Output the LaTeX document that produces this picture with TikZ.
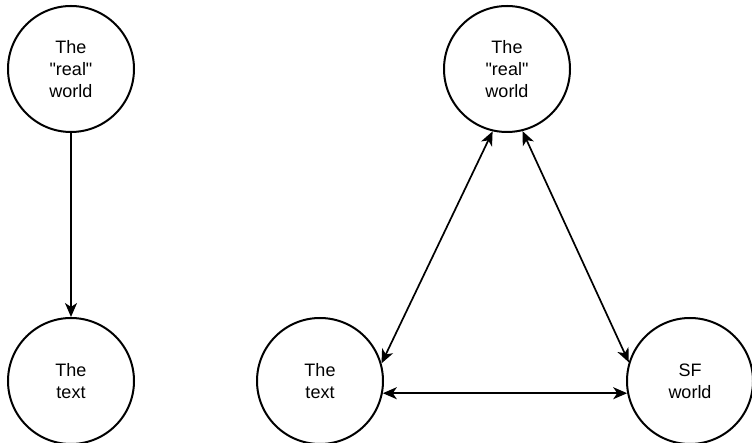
\documentclass[tikz,border=0pt]{standalone}
\usepackage{fontspec}
\setmainfont{Liberation Sans}
\usetikzlibrary{shapes.geometric, arrows.meta}
\tikzstyle{place} = [circle, minimum size=126pt, inner sep=0pt, align=center, draw=black, line width=2pt, font=\fontsize{18}{22}\selectfont]
\tikzstyle{arrow} = [line width=1.7pt, -{Stealth[length=14pt,width=12pt,inset=4pt]}]
\tikzstyle{darrow} = [line width=1.7pt, {Stealth[length=14pt,width=12pt,inset=4pt]}-{Stealth[length=14pt,width=12pt,inset=4pt]}]

\begin{document}
\begin{tikzpicture}[x=1pt, y=1pt, node distance=312pt]
\useasboundingbox (-71,69) rectangle (681,-374);

\node (real1) [place] {The\\\textquotedbl real\textquotedbl\\world};
\node (text1) [place, below of=real1] {The\\text};
\node (text2) [place, right of=text1, xshift=-63pt] {The\\text};
\node (sf) [place, right of=text2, xshift=58pt] {SF\\world};
\node (real2) [place, above of=text2, xshift=187pt] {The\\\textquotedbl real\textquotedbl\\world};

\draw [arrow] (real1) -- (text1);
\draw [darrow] (real2.257) -- (text2.16);
\draw [darrow] (real2.284) -- (sf.163);
\draw [darrow] (text2.-11) -- (sf.191);

\end{tikzpicture}
\end{document}
